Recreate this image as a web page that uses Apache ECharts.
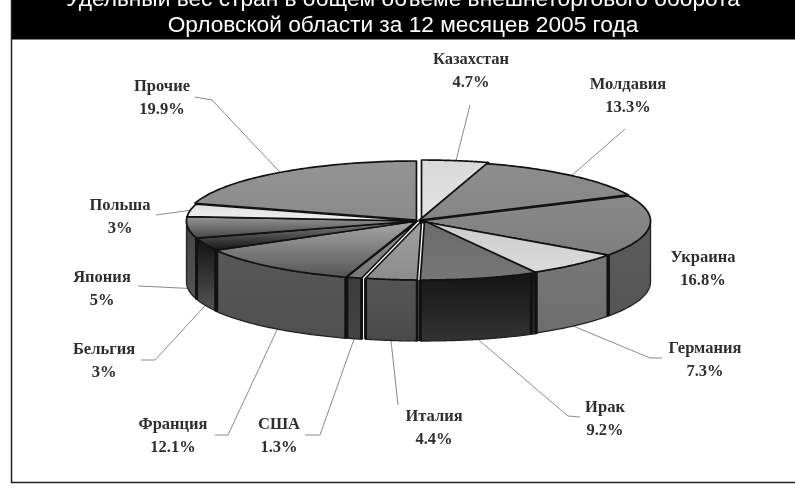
<!DOCTYPE html>
<html><head><meta charset="utf-8">
<style>html,body{margin:0;padding:0;background:#fff}#c{width:795px;height:496px}</style>
<script src="https://cdn.jsdelivr.net/npm/echarts@6/dist/echarts.min.js"></script>
</head><body><div id="c"></div>
<script>
const countries = ['Казахстан','Молдавия','Украина','Германия','Ирак','Италия','США','Франция','Бельгия','Япония','Польша','Прочие'];
const shares = [4.7,13.3,16.8,7.3,9.2,4.4,1.3,12.1,3,5,3,19.9];
const titleLines = ['Удельный вес стран в общем объеме внешнеторгового оборота','Орловской области за 12 месяцев 2005 года'];

const topTones = [['#e4e4e4','#d8d8d8'],['#858585','#8e8e8e'],['#7e7e7e','#8a8a8a'],['#dcdcdc','#cacaca'],['#777','#6a6a6a'],['#8c8c8c','#a0a0a0'],['#777','#8f8f8f'],['#555','#a8a8a8'],['#111','#888'],['#444','#999'],['#f0f0f0','#e0e0e0'],['#8a8a8a','#949494']];
const wallTones = [['#555','#555'],['#555','#555'],['#5c5c5c','#555'],['#777','#6e6e6e'],['#151515','#333'],['#555','#4a4a4a'],['#3c3c3c','#444'],['#585858','#505050'],['#111','#555'],['#444','#555'],['#555','#555'],['#555','#555']];
const explode = [[3,-2],[1,-1],[1,0],[1,0],[6,0],[3,0],[-1,0],[-2,0],[-1,0],[-1,0],[-1,0],[-2,-1]];
// label centre; leader path after the point where it leaves the pie
const labelAt = [[471,71],[628,96],[703,269],[705,360],[605,419],[434,428],[279,436],[173,436],[104,361],[102,289],[120,217],[162,98]];
const leaderPath = [[[470,105]],[[625,129]],null,[[650,358],[662,358]],[[568,416],[580,417]],[[398,405]],[[320,435],[305,435]],[[228,435],[215,435]],[[155,360],[141,360]],[[160,287],[138,286]],[[156,215]],[[212,100],[195,97]]];

const CX=418.5, CY=221, RX=231, RY=59, DEPTH=61;
const warp = t => t - 10*Math.exp(-Math.pow((t-230)/45,2));
const pt = deg => { const a=warp(deg)*Math.PI/180; return [CX+RX*Math.sin(a), CY-RY*Math.cos(a)]; };
const total = shares.reduce((a,b)=>a+b,0);

function renderItem(params, api){
  const i = params.dataIndex;
  let sum=0; for(let k=0;k<i;k++) sum+=shares[k];
  const a0=sum/total*360, a1=(sum+api.value(0))/total*360;
  const [ex,ey]=explode[i];
  const arc=[]; for(let k=0;k<=60;k++){const p=pt(a0+(a1-a0)*k/60);arc.push([p[0]+ex,p[1]+ey]);}
  const apex=[CX+ex,CY+ey];
  const children=[];
  const w=arc.filter(p=>p[1]-ey>=CY-1);
  if(w.length>1){
    const wall=w.concat(w.slice().reverse().map(p=>[p[0],p[1]+DEPTH]));
    children.push({type:'polygon',z2:10,shape:{points:wall},style:{
      fill:new echarts.graphic.LinearGradient(0,0,0,1,[{offset:0,color:wallTones[i][0]},{offset:1,color:wallTones[i][1]}]),
      stroke:'#222',lineWidth:1.3}});
    [w[0],w[w.length-1]].forEach(p=>{
      if(p[1]-ey>CY+5) children.push({type:'line',z2:11,shape:{x1:p[0],y1:p[1],x2:p[0],y2:p[1]+DEPTH},style:{stroke:'#111',lineWidth:3}});
    });
  }
  children.push({type:'polygon',z2:20,shape:{points:[apex].concat(arc)},style:{
    fill:new echarts.graphic.LinearGradient(0.5,1,0.5,0,[{offset:0,color:topTones[i][0]},{offset:1,color:topTones[i][1]}]),
    stroke:'#111',lineWidth:1.7,lineJoin:'round'}});
  const m=pt((a0+a1)/2);
  const base=[m[0]+ex,m[1]+(m[1]>CY?DEPTH:0)];
  if(leaderPath[i]) children.push({type:'polyline',z2:5,shape:{points:[base].concat(leaderPath[i])},style:{stroke:'#8a8a8a',lineWidth:1,fill:null}});
  children.push({type:'text',z2:30,style:{x:labelAt[i][0],y:labelAt[i][1],text:countries[i]+'\n'+shares[i]+'%',
    align:'center',verticalAlign:'middle',fontFamily:'"Liberation Serif"',fontWeight:'bold',fontSize:16.5,lineHeight:22.5,fill:'#2e2e2e'}});
  return {type:'group',children};
}

const chart=echarts.init(document.getElementById('c'),null,{renderer:'canvas'});
chart.setOption({
  animation:false,
  backgroundColor:'#fff',
  graphic:[
    {type:'rect',z:0,shape:{x:11,y:0,width:784,height:39.5},style:{fill:'#000'}},
    {type:'line',z:0,shape:{x1:11.5,y1:0,x2:11.5,y2:483},style:{stroke:'#222',lineWidth:1.5}},
    {type:'line',z:0,shape:{x1:11,y1:482.5,x2:795,y2:482.5},style:{stroke:'#222',lineWidth:1.5}},
    {type:'text',z:1,style:{x:403,y:0,text:titleLines[0],align:'center',verticalAlign:'middle',fontFamily:'"Liberation Sans"',fontSize:22.7,fill:'#fff'}},
    {type:'text',z:1,style:{x:403,y:26,text:titleLines[1],align:'center',verticalAlign:'middle',fontFamily:'"Liberation Sans"',fontSize:22.7,fill:'#fff'}}
  ],
  series:[{type:'custom',coordinateSystem:'none',renderItem,data:shares.map((v,i)=>({name:countries[i],value:[v]})),silent:true}]
});
</script></body></html>
